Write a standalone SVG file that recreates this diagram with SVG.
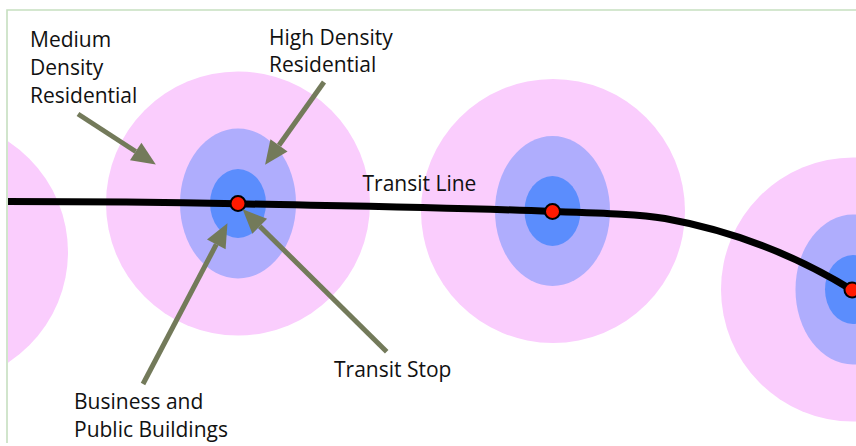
<svg xmlns="http://www.w3.org/2000/svg" width="856" height="446" viewBox="0 0 856 446">
  <style>
    .pink { fill: #facdfd; }
    .lav { fill: #afadfd; }
    .blue { fill: #5b8dfd; }
    .stop { fill: #ff1a00; stroke: #000; stroke-width: 2; }
    .arrow { stroke: #737a5a; stroke-width: 5; fill: none; marker-end: url(#head); }
    .label { font-family: "Open Sans", "Noto Sans", sans-serif; font-size: 21px; fill: #111; }
    .border { stroke: #c6dfc0; stroke-width: 1.6; fill: none; }
  </style>
  <defs>
    <clipPath id="frame">
      <rect x="8" y="11" width="848" height="435"/>
    </clipPath>
    <marker id="head" markerUnits="userSpaceOnUse" markerWidth="24" markerHeight="22" refX="0" refY="11" orient="auto" overflow="visible">
      <path d="M0,0.5 L24,11 L0,21.5 Z" fill="#737a5a"/>
    </marker>
  </defs>
  <rect width="856" height="446" fill="#fff"/>
  <path class="border" d="M856,10 H7 V443"/>

  <g clip-path="url(#frame)">
    <g id="zone1">
      <circle class="pink" cx="-64" cy="252" r="132"/>
    </g>
    <g id="zone2">
      <circle class="pink" cx="238" cy="203.5" r="132"/>
      <ellipse class="lav" cx="238" cy="203.5" rx="58" ry="75"/>
      <ellipse class="blue" cx="238" cy="203.5" rx="28" ry="34.5"/>
    </g>
    <g id="zone3">
      <circle class="pink" cx="553" cy="211" r="132"/>
      <ellipse class="lav" cx="552.5" cy="211" rx="57.5" ry="75"/>
      <ellipse class="blue" cx="552.5" cy="211" rx="28" ry="35"/>
    </g>
    <g id="zone4">
      <circle class="pink" cx="853" cy="289.5" r="132"/>
      <ellipse class="lav" cx="853" cy="289.5" rx="57.5" ry="75"/>
      <ellipse class="blue" cx="853" cy="289.5" rx="28" ry="34.5"/>
    </g>

    <g id="transit-line">
      <path d="M7,201.5 C100,201.5 200,203 238,203.8 C350,206 450,207 552,211.5 C610,213.5 640,214.5 665,218.5 C740,232 800,258 852,290" fill="none" stroke="#000" stroke-width="7"/>
    </g>
    <g id="stops">
      <circle class="stop" cx="238" cy="203.5" r="7.5"/>
      <circle class="stop" cx="552.5" cy="211.5" r="7.5"/>
      <circle class="stop" cx="852" cy="290" r="7.5"/>
    </g>
  </g>

  <g id="connectors">
    <path class="arrow" d="M78,114 L135.7,151.5"/>
    <path class="arrow" d="M324,82 L279,145.3"/>
    <path class="arrow" d="M143,384 L216.3,244.4"/>
    <path class="arrow" d="M386.7,351.7 L259.7,226.2"/>
  </g>

  <g id="label-medium">
    <text class="label" x="30" y="46.7">Medium</text>
    <text class="label" x="30" y="74.7">Density</text>
    <text class="label" x="30" y="102.7">Residential</text>
  </g>
  <g id="label-high">
    <text class="label" x="269" y="45">High Density</text>
    <text class="label" x="269" y="72">Residential</text>
  </g>
  <g id="label-line">
    <text class="label" x="362.5" y="191">Transit Line</text>
  </g>
  <g id="label-stop">
    <text class="label" x="334" y="377.3">Transit Stop</text>
  </g>
  <g id="label-business">
    <text class="label" x="74" y="409">Business and</text>
    <text class="label" x="74" y="437.3">Public Buildings</text>
  </g>
</svg>
